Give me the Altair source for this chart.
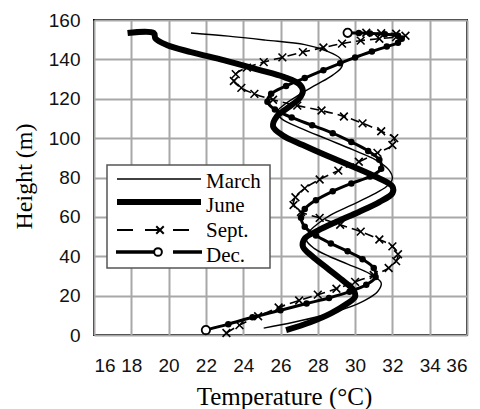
import altair as alt
import pandas as pd

# Vertical temperature profiles (temperature in °C, height in m), listed bottom to top
march_temp = [25.1, 26.7, 28.2, 29.5, 30.5, 31.2, 31.4, 30.8, 29.6, 28.6, 27.8, 27.4, 27.5, 28.0,
              28.7, 29.8, 30.9, 31.7, 32.0, 31.8, 31.1, 29.9, 28.5, 27.1, 26.1, 25.8, 26.2, 27.0,
              27.9, 28.8, 29.3, 29.2, 28.4, 27.3, 25.2, 23.2, 21.2]
march_height = [3.5, 6.5, 9.8, 13.5, 17.5, 22.0, 26.5, 31.0, 36.0, 40.0, 44.0, 48.0, 52.0, 56.5,
                61.0, 66.0, 71.0, 75.5, 79.5, 84.0, 89.0, 94.0, 99.5, 105.0, 109.5, 113.0, 117.0, 122.0,
                127.0, 132.0, 136.5, 140.5, 144.5, 147.5, 149.8, 151.8, 153.4]

june_temp = [26.3, 27.6, 28.7, 29.5, 30.0, 29.9, 29.3, 28.5, 27.7, 27.2, 27.3, 28.0, 29.0, 30.2,
             31.3, 32.0, 32.0, 31.2, 29.9, 28.5, 27.2, 26.1, 25.6, 25.8, 26.4, 27.0, 27.2, 27.0,
             26.2, 24.8, 23.0, 21.2, 19.9, 19.3, 19.2, 17.8]
june_height = [2.5, 6.5, 11.0, 15.5, 19.5, 23.0, 28.0, 34.0, 40.0, 45.0, 49.0, 53.0, 57.5, 62.5,
               67.5, 72.0, 75.5, 80.0, 85.5, 91.0, 96.5, 101.5, 106.0, 111.0, 115.5, 120.0, 124.0, 127.5,
               131.0, 134.8, 139.5, 143.7, 147.3, 150.5, 153.4, 153.4]

sept_temp = [23.1, 23.8, 24.8, 25.9, 27.0, 28.0, 29.0, 30.0, 31.0, 31.8, 32.2, 32.3, 32.0, 31.3,
             30.3, 29.2, 28.1, 27.1, 26.7, 26.8, 27.3, 28.1, 29.1, 30.2, 31.2, 32.0, 32.1, 31.4,
             30.4, 29.4, 28.2, 26.9, 25.6, 24.6, 23.9, 23.5, 23.6, 24.2, 25.1, 26.1, 27.2, 28.3,
             29.3, 30.3, 31.3, 32.2, 32.7, 32.2, 31.4, 30.6]
sept_height = [1.0, 5.0, 9.5, 14.0, 17.5, 20.5, 23.5, 27.0, 30.5, 34.0, 37.5, 41.0, 45.0, 48.5,
               52.5, 56.0, 59.5, 62.5, 66.0, 70.0, 74.5, 79.0, 83.5, 88.0, 92.5, 96.5, 100.0, 103.5,
               107.5, 111.0, 114.0, 116.5, 119.5, 122.5, 125.5, 129.0, 132.5, 135.8, 138.6, 141.0, 143.7, 146.0,
               148.0, 149.5, 150.5, 151.3, 152.0, 153.0, 153.3, 153.5]

dec_temp = [22.0, 23.2, 24.5, 26.0, 27.4, 28.6, 29.7, 30.6, 31.1, 31.0, 30.4, 29.6, 28.7, 27.9,
            27.3, 27.1, 27.3, 27.9, 28.8, 29.8, 30.8, 31.4, 31.3, 30.7, 29.8, 28.8, 27.7, 26.6,
            25.7, 25.3, 25.5, 26.3, 27.3, 28.3, 29.2, 30.0, 30.9, 31.7, 32.3, 32.5, 32.3, 31.6,
            30.8, 30.2, 29.6]
dec_height = [2.5, 5.5, 9.0, 12.6, 16.0, 18.8, 22.0, 25.5, 29.5, 34.0, 38.5, 42.5, 46.5, 50.5,
              55.0, 59.5, 64.0, 68.5, 73.0, 77.0, 80.5, 84.5, 89.0, 93.5, 98.0, 102.5, 106.5, 110.5,
              114.5, 118.5, 122.5, 126.5, 130.5, 134.5, 138.0, 141.0, 144.0, 146.5, 148.5, 150.5, 152.0, 152.8,
              153.2, 153.4, 153.5]

x_ticks = list(range(16, 37, 2))
y_ticks = list(range(0, 161, 20))


def profile(name, temps, heights):
    return pd.DataFrame({"month": name, "idx": range(len(temps)), "temp": temps, "height": heights})


march = profile("March", march_temp, march_height)
june = profile("June", june_temp, june_height)
sept = profile("Sept.", sept_temp, sept_height)
dec = profile("Dec.", dec_temp, dec_height)

x_scale = alt.Scale(domain=[16, 36], nice=False, zero=False)
y_scale = alt.Scale(domain=[0, 160], nice=False, zero=False)

axis_style = dict(
    grid=True, gridColor="#a8a8a8", gridWidth=2, domain=False, ticks=True, tickSize=0,
    labelFont="Liberation Sans", labelFontSize=19, labelColor="#111111",
    titleFont="Liberation Serif", titleFontWeight="normal", titleColor="black",
    titleAlign="center",
)
x_axis = alt.Axis(values=x_ticks, title="Temperature (°C)", labelPadding=21, titleFontSize=25,
                  titleX=190, titleY=69, titleBaseline="alphabetic", **axis_style)
y_axis = alt.Axis(values=y_ticks, title="Height (m)", labelPadding=14, titleFontSize=24,
                  titleX=-70, titleY=156, titleAngle=-90, titleBaseline="middle", **axis_style)


def curve(df):
    return alt.Chart(df).encode(
        x=alt.X("temp:Q", scale=x_scale, axis=x_axis),
        y=alt.Y("height:Q", scale=y_scale, axis=y_axis),
        order=alt.Order("idx:Q"),
    )


CROSS = "M-1,-1L1,1M-1,1L1,-1"

march_line = curve(march).mark_line(interpolate="catmull-rom", color="black", strokeWidth=1.4)
june_line = curve(june).mark_line(interpolate="catmull-rom", color="black", strokeWidth=6,
                                  strokeJoin="round")
sept_line = curve(sept).mark_line(interpolate="catmull-rom", color="black", strokeWidth=1.6,
                                  strokeDash=[9, 5])
sept_marks = curve(sept).mark_point(shape=CROSS, size=60, color="black", strokeWidth=1.6,
                                    filled=False, opacity=1)
dec_line = curve(dec).mark_line(interpolate="catmull-rom", color="black", strokeWidth=3)
dec_marks = curve(dec).mark_point(shape="circle", size=42, color="black", filled=True, opacity=1)
dec_ends = curve(dec).transform_filter(
    (alt.datum.idx == 0) | (alt.datum.idx == len(dec_temp) - 1)
).mark_point(shape="circle", size=70, stroke="black", fill="white", strokeWidth=1.8,
             opacity=1, fillOpacity=1)

# Legend drawn inside the plot area
one = pd.DataFrame({"k": [0]})
legend_font = "Liberation Serif"
box = alt.Chart(one).mark_rect(fill="white", stroke="#555555", strokeWidth=1.5).encode(
    x=alt.value(13), x2=alt.value(176), y=alt.value(145), y2=alt.value(248))
leg_march = alt.Chart(one).mark_rule(color="black", strokeWidth=1.5).encode(
    x=alt.value(23), x2=alt.value(107), y=alt.value(159))
leg_june = alt.Chart(one).mark_rule(color="black", strokeWidth=6).encode(
    x=alt.value(23), x2=alt.value(107), y=alt.value(182))
leg_sept = alt.Chart(one).mark_rule(color="black", strokeWidth=1.8, strokeDash=[16, 12]).encode(
    x=alt.value(23), x2=alt.value(107), y=alt.value(210))
leg_sept_mark = alt.Chart(one).mark_point(shape=CROSS, size=56, color="black", strokeWidth=2,
                                          filled=False, opacity=1).encode(
    x=alt.value(66), y=alt.value(210))
leg_dec_a = alt.Chart(one).mark_rule(color="black", strokeWidth=3.5).encode(
    x=alt.value(22), x2=alt.value(60), y=alt.value(232))
leg_dec_b = alt.Chart(one).mark_rule(color="black", strokeWidth=3.5).encode(
    x=alt.value(79), x2=alt.value(108), y=alt.value(232))
leg_dec_mark = alt.Chart(one).mark_point(shape="circle", size=60, stroke="black", fill="white",
                                         strokeWidth=2, opacity=1, fillOpacity=1).encode(
    x=alt.value(64), y=alt.value(232))

labels = [("March", 161.5), ("June", 185.5), ("Sept.", 210.5), ("Dec.", 236)]
leg_texts = [
    alt.Chart(one).mark_text(text=name, align="left", baseline="middle", font=legend_font,
                             fontSize=21, color="black").encode(x=alt.value(112), y=alt.value(ypos))
    for name, ypos in labels
]

chart = alt.layer(
    march_line, june_line, sept_line, sept_marks, dec_line, dec_marks, dec_ends,
    box, leg_march, leg_june, leg_sept, leg_sept_mark, leg_dec_a, leg_dec_b, leg_dec_mark,
    *leg_texts,
).properties(
    width=373, height=315,
    autosize=alt.AutoSizeParams(type="none"),
    padding={"left": 94, "top": 20, "right": 13, "bottom": 74},
    background="white",
).configure_view(
    stroke="black", strokeWidth=2,
)

chart.save("out.html", embed_options={"renderer": "svg", "actions": False})
